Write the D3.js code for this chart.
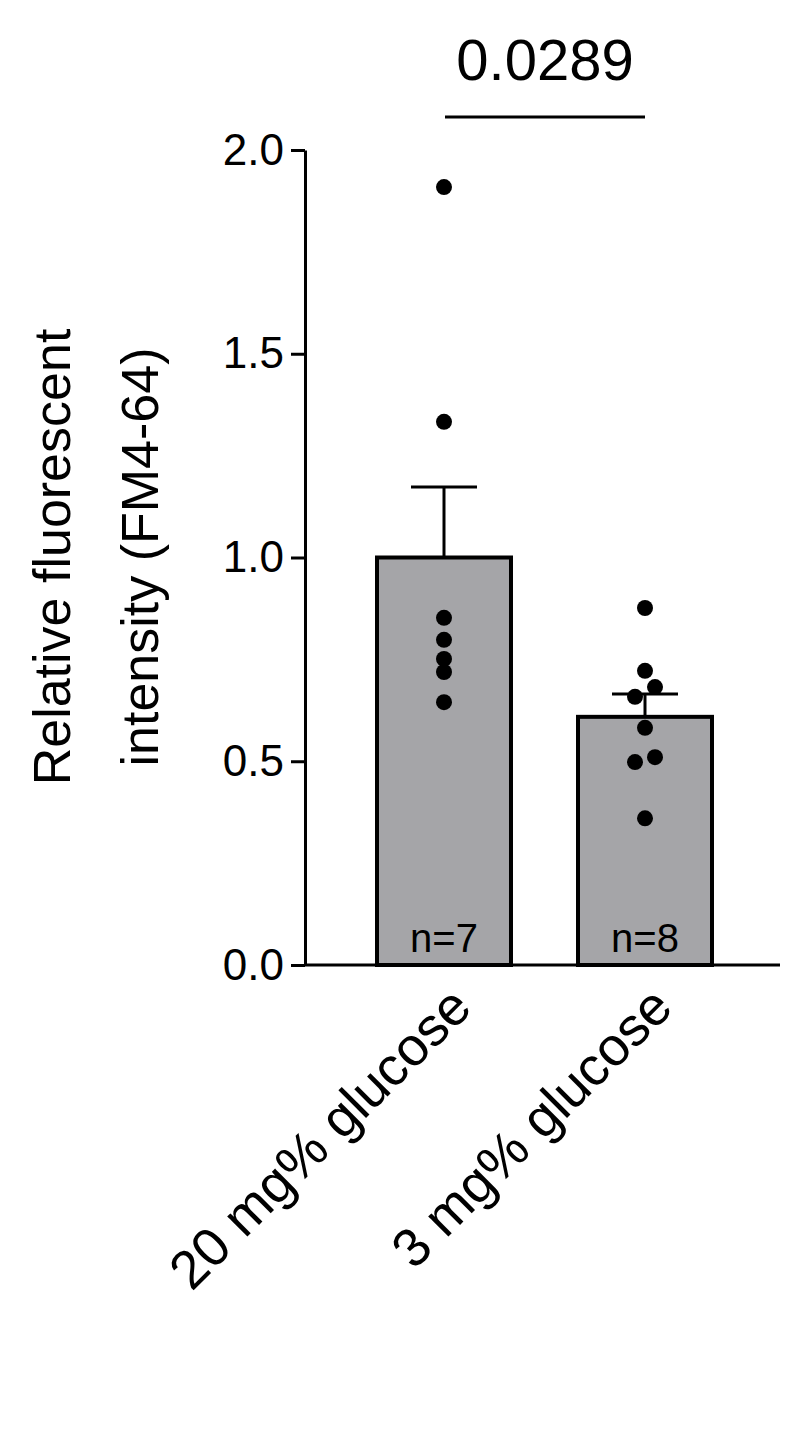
<!DOCTYPE html>
<html>
<head>
<meta charset="utf-8">
<script src="https://cdn.jsdelivr.net/npm/d3@7"></script>
<style>body{margin:0;background:#fff}text{font-family:Arial,"Liberation Sans",sans-serif}</style>
</head>
<body>
<div id="chart"></div>
<script>
// data
var categories = ["20 mg% glucose", "3 mg% glucose"];
var means = [1.0, 0.609];
var sems = [0.173, 0.056];
var counts = ["n=7", "n=8"];
var points20 = [1.909, 1.333, 0.852, 0.798, 0.751, 0.719, 0.645];
var points3 = [0.876, 0.722, 0.682, 0.658, 0.582, 0.51, 0.498, 0.36];
var pValue = "0.0289";
var yTicks = [0, 0.5, 1.0, 1.5, 2.0];

var svg = d3.select("#chart").append("svg")
    .attr("width", 800).attr("height", 1443);

var y = d3.scaleLinear().domain([0, 2]).range([965, 150]);
var x = d3.scalePoint().domain(categories).range([444, 645]);
var barW = 134;

// y axis
svg.append("g")
    .attr("transform", "translate(305,0)")
    .call(d3.axisLeft(y).tickValues(yTicks).tickFormat(d3.format(".1f")).tickSize(14).tickSizeOuter(0))
    .call(g => g.select(".domain").attr("stroke-width", 3))
    .call(g => g.selectAll(".tick line").attr("stroke-width", 3))
    .call(g => g.selectAll(".tick text").attr("font-size", 44).attr("dx", -4).attr("fill", "#000"));

// bars
svg.selectAll(".bar").data(categories).enter().append("rect")
    .attr("x", d => x(d) - barW / 2)
    .attr("y", (d, i) => y(means[i]))
    .attr("width", barW)
    .attr("height", (d, i) => y(0) - y(means[i]))
    .attr("fill", "#a5a5a8").attr("stroke", "#000").attr("stroke-width", 4);

// error bars
categories.forEach(function (c, i) {
    svg.append("line").attr("x1", x(c)).attr("x2", x(c))
        .attr("y1", y(means[i])).attr("y2", y(means[i] + sems[i]))
        .attr("stroke", "#000").attr("stroke-width", 3);
    svg.append("line").attr("x1", x(c) - 33).attr("x2", x(c) + 33)
        .attr("y1", y(means[i] + sems[i])).attr("y2", y(means[i] + sems[i]))
        .attr("stroke", "#000").attr("stroke-width", 3);
    svg.append("text").attr("x", x(c)).attr("y", 952)
        .attr("text-anchor", "middle").attr("font-size", 40).text(counts[i]);
});

// x axis
svg.append("line").attr("x1", 305).attr("x2", 780).attr("y1", y(0)).attr("y2", y(0))
    .attr("stroke", "#000").attr("stroke-width", 3);

// points, with small jitter for near values
function jitter(vals) {
    var out = [];
    vals.forEach(function (v, i) {
        var near = vals.filter((w, j) => j !== i && Math.abs(w - v) < 0.03);
        var dx = 0;
        if (near.length) dx = vals.indexOf(v) < vals.indexOf(near[0]) ? 10 : -10;
        out.push({ v: v, dx: dx });
    });
    return out;
}
[points20, points3].forEach(function (pts, i) {
    svg.selectAll(null).data(jitter(pts)).enter().append("circle")
        .attr("cx", d => x(categories[i]) + d.dx)
        .attr("cy", d => y(d.v))
        .attr("r", 8).attr("fill", "#000");
});

// significance
svg.append("line").attr("x1", 445).attr("x2", 645).attr("y1", 117).attr("y2", 117)
    .attr("stroke", "#000").attr("stroke-width", 3);
svg.append("text").attr("x", 545).attr("y", 80).attr("text-anchor", "middle")
    .attr("font-size", 58).text(pValue);

// category labels
svg.selectAll(".xl").data(categories).enter().append("text")
    .attr("transform", d => "translate(" + (x(d) + 30) + ",1010) rotate(-45)")
    .attr("text-anchor", "end").attr("font-size", 54).text(d => d);

// y title
var yt = svg.append("text").attr("transform", "translate(0,557) rotate(-90)")
    .attr("text-anchor", "middle").attr("font-size", 52);
yt.append("tspan").attr("x", 0).attr("y", 70).text("Relative fluorescent");
yt.append("tspan").attr("x", 0).attr("y", 158).text("intensity (FM4-64)");
</script>
</body>
</html>
